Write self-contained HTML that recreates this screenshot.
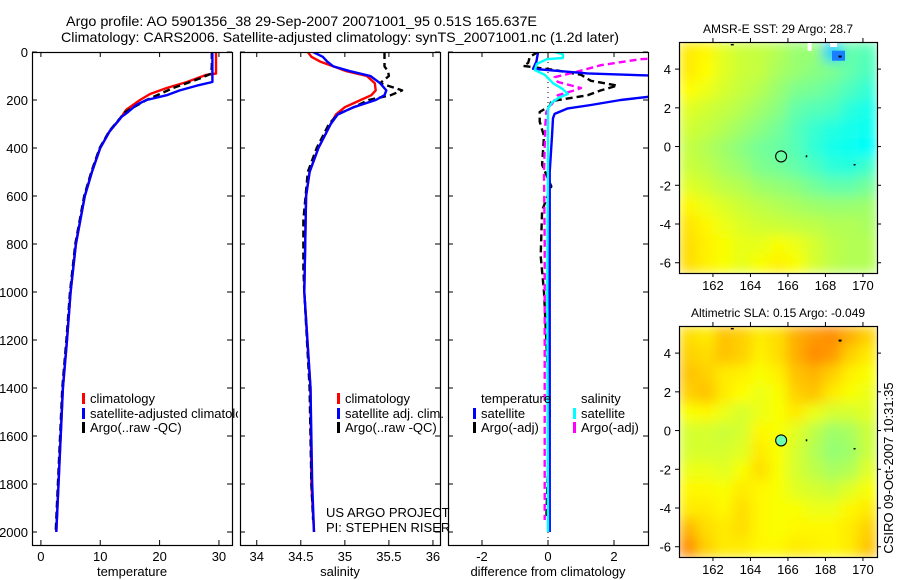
<!DOCTYPE html>
<html><head><meta charset="utf-8">
<style>
html,body{margin:0;padding:0;background:#fff;}
svg{display:block;font-family:"Liberation Sans",Arial,sans-serif;}
text{fill:#000;}
</style></head>
<body>
<svg id="fig" width="900" height="580" viewBox="0 0 900 580" xmlns="http://www.w3.org/2000/svg">
<defs>
<filter id="smooth" x="0" y="0" width="1" height="1"><feGaussianBlur stdDeviation="6" edgeMode="duplicate"/></filter>
<clipPath id="clip-leg1"><rect x="32" y="380" width="206" height="70"/></clipPath>
</defs>
<text x="66" y="26" font-size="14" textLength="471" lengthAdjust="spacingAndGlyphs">Argo profile: AO 5901356_38 29-Sep-2007 20071001_95 0.51S 165.637E</text>
<text x="61" y="42" font-size="14" textLength="558" lengthAdjust="spacingAndGlyphs">Climatology: CARS2006. Satellite-adjusted climatology: synTS_20071001.nc (1.2d later)</text>
<text x="885" y="460" font-size="13" transform="rotate(-90 893 460)" text-anchor="middle">CSIRO 09-Oct-2007 10:31:35</text>
<g id="plots"></g>
</svg>
<script>
// ---------- profile data (depth in m) ----------
const tempClimDepth = [0,90,95,125,150,175,200,240,280,330,400,500,600,800,1000,1200,1400,2000];
const tempClimVal   = [29.5,29.5,27.9,24.6,21.2,18.4,16.7,14.4,13.3,11.6,10.0,8.6,7.4,5.9,5.0,4.4,3.7,2.6];
const tempSatDepth  = [0,125,140,160,180,200,220,250,270,330,400,500,600,800,1000,1200,1400,2000];
const tempSatVal    = [28.9,28.9,26.3,23.4,21.2,17.8,16.1,14.7,13.6,11.6,10.0,8.6,7.4,5.9,5.0,4.4,3.7,2.6];
const tempArgoDepth = [0,60,90,110,150,200,250,330,400,500,600,800,1000,1200,1400,2000];
const tempArgoVal   = [28.8,28.8,28.7,26.8,22.3,17.8,14.2,11.5,9.9,8.5,7.3,5.8,4.9,4.3,3.6,2.5];

const salClimDepth = [0,20,40,60,80,100,130,160,180,200,230,260,300,350,400,500,600,800,1000,1400,1800,2000];
const salClimVal   = [34.58,34.62,34.72,34.87,35.02,35.25,35.34,35.35,35.30,35.18,35.00,34.90,34.84,34.77,34.70,34.60,34.56,34.55,34.54,34.61,34.62,34.65];
const salSatDepth  = [0,20,40,60,80,100,130,160,180,200,230,260,300,350,400,500,600,800,1000,1400,1800,2000];
const salSatVal    = [34.64,34.75,34.80,34.87,35.06,35.29,35.40,35.47,35.45,35.35,35.10,34.92,34.84,34.77,34.70,34.60,34.56,34.55,34.54,34.61,34.63,34.65];
const salArgoDepth = [0,60,80,100,130,150,160,180,200,230,260,300,400,500,700,900,1000,1400,1800,1950];
const salArgoVal   = [35.45,35.45,35.49,35.50,35.40,35.57,35.65,35.52,35.27,35.10,34.92,34.82,34.68,34.58,34.53,34.53,34.54,34.60,34.62,34.64];

const dTsatDepth = [0,40,70,89,100,150,186,200,221,235,258,276,350,500,2000];
const dTsatVal   = [-0.3,-0.35,-0.45,1.2,3.5,5,3.1,2.2,1.3,0.6,0.2,0.15,0.12,0.05,0.05];
const dSsatDepth = [0,10,25,30,50,75,95,130,155,175,190,210,235,400,1000,2000];
const dSsatVal   = [0.2,0.45,0.45,-0.04,-0.34,-0.4,-0.1,0.15,0.45,0.6,0.33,0.12,0.0,0.0,-0.02,0.0];
const dTargoDepth = [0,20,45,58,75,95,120,140,160,180,205,225,250,290,350,470,560,660,850,1000,1200,1500,1950];
const dTargoVal   = [-0.3,-0.55,-0.6,-0.75,0.2,1.0,1.3,2.1,1.6,1.2,0.1,0.05,-0.25,-0.25,-0.12,-0.18,0.1,-0.18,-0.22,-0.12,-0.05,0.05,-0.05];
const dSargoDepth = [0,20,30,55,85,105,125,150,160,180,200,250,300,500,800,1500,1950];
const dSargoVal   = [5,4,2.8,1.6,0.8,0.2,0.3,1.0,0.8,0.3,0.2,-0.05,-0.08,-0.12,-0.1,-0.1,-0.1];

const depthTicks = [0,200,400,600,800,1000,1200,1400,1600,1800,2000];
const tempTicks = [0,10,20,30];
const salTicks = [34,34.5,35,35.5,36];
const salTickLabels = ["34","34.5","35","35.5","36"];
const diffTicks = [-2,0,2];

// ---------- map data (rows lat 5..-6, cols lon ~160.7..170.3) ----------
const sstGrid = [
[0.76,0.74,0.68,0.64,0.63,0.60,0.55,0.55,0.20,0.45,0.42],
[0.76,0.73,0.68,0.64,0.63,0.58,0.55,0.52,0.50,0.45,0.40],
[0.73,0.70,0.66,0.63,0.60,0.55,0.50,0.48,0.45,0.40,0.35],
[0.68,0.65,0.63,0.60,0.56,0.52,0.45,0.42,0.40,0.33,0.30],
[0.65,0.63,0.60,0.56,0.52,0.48,0.42,0.36,0.32,0.30,0.28],
[0.63,0.60,0.56,0.52,0.48,0.46,0.42,0.35,0.30,0.28,0.26],
[0.64,0.62,0.58,0.55,0.50,0.48,0.45,0.40,0.34,0.33,0.38],
[0.68,0.65,0.62,0.60,0.56,0.54,0.52,0.48,0.45,0.45,0.48],
[0.74,0.70,0.67,0.64,0.62,0.60,0.58,0.56,0.55,0.55,0.56],
[0.77,0.74,0.70,0.67,0.65,0.64,0.63,0.62,0.60,0.60,0.58],
[0.78,0.75,0.72,0.69,0.69,0.72,0.70,0.66,0.62,0.60,0.60],
[0.78,0.75,0.72,0.69,0.72,0.75,0.72,0.66,0.62,0.60,0.60]];
const slaGrid = [
[0.78,0.76,0.82,0.80,0.76,0.78,0.85,0.88,0.90,0.85,0.80],
[0.80,0.78,0.82,0.80,0.75,0.78,0.85,0.90,0.88,0.80,0.76],
[0.82,0.80,0.76,0.75,0.72,0.75,0.82,0.84,0.80,0.75,0.72],
[0.80,0.82,0.76,0.73,0.70,0.72,0.80,0.82,0.76,0.72,0.70],
[0.72,0.74,0.70,0.66,0.70,0.72,0.76,0.70,0.66,0.66,0.68],
[0.66,0.66,0.64,0.66,0.74,0.72,0.68,0.62,0.56,0.58,0.64],
[0.66,0.66,0.66,0.68,0.76,0.72,0.66,0.60,0.54,0.56,0.64],
[0.70,0.70,0.68,0.72,0.78,0.72,0.66,0.62,0.58,0.60,0.68],
[0.74,0.74,0.72,0.76,0.74,0.72,0.68,0.66,0.64,0.68,0.72],
[0.76,0.76,0.74,0.78,0.74,0.72,0.72,0.70,0.70,0.74,0.76],
[0.84,0.78,0.76,0.78,0.74,0.72,0.74,0.74,0.74,0.76,0.80],
[0.90,0.80,0.76,0.76,0.74,0.74,0.76,0.75,0.74,0.76,0.82]];
const lonTicks = [162,164,166,168,170];
const latTicks = [4,2,0,-2,-4,-6];
const argoLon = 165.637, argoLat = -0.51;

const NS = "http://www.w3.org/2000/svg";
const root = document.getElementById('plots');
function mk(tag, attrs, parent){
  const e = document.createElementNS(NS, tag);
  for (const k in attrs) e.setAttribute(k, attrs[k]);
  (parent||root).appendChild(e);
  return e;
}
function txt(x,y,s,size,anchor,parent){
  const t = mk('text',{x:x,y:y,'font-size':size,'text-anchor':anchor||'start'},parent);
  t.textContent = s; return t;
}

// ---------- profile panels ----------
const PY0 = 52, PY1 = 545, DPX = 0.24;
function yD(d){ return PY0 + d*DPX; }
function panel(id, x0, x1, vmin, vmax){
  const sx = v => x0 + (v - vmin)/(vmax - vmin)*(x1 - x0);
  const g = mk('g',{});
  
  
  const cp = mk('clipPath',{id:'clip-'+id}, g);
  mk('rect',{x:x0,y:PY0,width:x1-x0,height:PY1-PY0},cp);
  return {g, sx, x0, x1, clip:'url(#clip-'+id+')'};
}
function frame(p, xticks, xlabels, xtitle, ylabels){
  const {g,sx,x0,x1} = p;
  const r = mk('rect',{x:x0+0.5,y:PY0+0.5,width:x1-x0,height:PY1-PY0,fill:'none',stroke:'#000','stroke-width':1.2},g);
  
  
  depthTicks.forEach((d,i)=>{
    const y = yD(d);
    mk('line',{x1:x0,y1:y,x2:x0+5,y2:y,stroke:'#000'},g);
    mk('line',{x1:x1-5,y1:y,x2:x1,y2:y,stroke:'#000'},g);
    if (ylabels){
      const t = txt(x0-4, y+5, String(d), 13, 'end', g);
      
      
    }
  });
  xticks.forEach((v,i)=>{
    const x = sx(v);
    mk('line',{x1:x,y1:PY1,x2:x,y2:PY1-5,stroke:'#000'},g);
    mk('line',{x1:x,y1:PY0,x2:x,y2:PY0+5,stroke:'#000'},g);
    const t = txt(x, PY1+16, xlabels[i], 13, 'middle', g);
    
    
  });
  const tt = txt((x0+x1)/2, 576, xtitle, 13, 'middle', g);
  
  
}
function series(p, depths, vals, color, name, dash, w){
  const pts = depths.map((d,i)=> p.sx(vals[i]).toFixed(1)+','+yD(d).toFixed(1)).join(' ');
  const attrs = {points:pts, fill:'none', stroke:color, 'stroke-width':w||2.4, 'clip-path':p.clip, 'stroke-linejoin':'round'};
  if (dash) attrs['stroke-dasharray'] = dash;
  const l = mk('polyline', attrs, p.g);
  
  
}
function legend(g, x, y, color, label, bar){
  if (bar!==false){
    const b = mk('rect',{x:x,y:y-10,width:3,height:11,fill:color},g);
    
    
  }
  const t = txt(x+8, y, label, 13, 'start', g);
  
  
}

// temperature panel
const pT = panel('temperature-panel', 32, 232, -1.5, 32.2);
series(pT, tempClimDepth, tempClimVal, '#f00', 'temp-climatology-line');
series(pT, tempArgoDepth, tempArgoVal, '#000', 'temp-argo-line', '7,4');
series(pT, tempSatDepth, tempSatVal, '#00f', 'temp-satellite-line');
frame(pT, tempTicks, tempTicks.map(String), 'temperature', true);
const leg1 = mk('g',{'clip-path':'url(#clip-leg1)'},pT.g);


legend(leg1, 82, 403, '#f00', 'climatology');
legend(leg1, 82, 418, '#00f', 'satellite-adjusted climatology');
legend(leg1, 82, 432, '#000', 'Argo(..raw -QC)');

// salinity panel
const pS = panel('salinity-panel', 240, 440, 33.81, 36.08);
series(pS, salClimDepth, salClimVal, '#f00', 'sal-climatology-line');
series(pS, salArgoDepth, salArgoVal, '#000', 'sal-argo-line', '7,4');
series(pS, salSatDepth, salSatVal, '#00f', 'sal-satellite-line');
frame(pS, salTicks, salTickLabels, 'salinity', false);
legend(pS.g, 337, 403, '#f00', 'climatology');
legend(pS.g, 337, 418, '#00f', 'satellite adj. clim.');
legend(pS.g, 337, 432, '#000', 'Argo(..raw -QC)');
const us1 = txt(326, 517, 'US ARGO PROJECT', 13, 'start', pS.g);
 
const us2 = txt(326, 532, 'PI: STEPHEN RISER', 13, 'start', pS.g);
 

// difference panel
const pD = panel('difference-panel', 448, 648, -3.03, 3.03);
const zl = mk('line',{x1:pD.sx(0),y1:PY0,x2:pD.sx(0),y2:PY1,stroke:'#000','stroke-dasharray':'1,4'},pD.g);
 
series(pD, dTargoDepth, dTargoVal, '#000', 'diff-temp-argo-line', '7,4');
series(pD, dSargoDepth, dSargoVal, '#f0f', 'diff-sal-argo-line', '7,4');
series(pD, dTsatDepth, dTsatVal, '#00f', 'diff-temp-satellite-line');
series(pD, dSsatDepth, dSsatVal, '#0ff', 'diff-sal-satellite-line');
frame(pD, diffTicks, diffTicks.map(String), 'difference from climatology', false);
legend(pD.g, 473, 403, '#000', 'temperature', false);
legend(pD.g, 473, 418, '#00f', 'satellite');
legend(pD.g, 473, 432, '#000', 'Argo(-adj)');
legend(pD.g, 573, 403, '#000', 'salinity', false);
legend(pD.g, 573, 418, '#0ff', 'satellite');
legend(pD.g, 573, 432, '#f0f', 'Argo(-adj)');

// ---------- maps ----------
function cmap(v){
  const stops = [[0,[0,0,255]],[0.25,[0,255,255]],[0.45,[100,255,170]],[0.62,[190,255,70]],[0.73,[255,255,0]],[0.9,[255,140,0]],[1,[255,60,0]]];
  v = Math.max(0, Math.min(1, v));
  for (let i=1;i<stops.length;i++){
    if (v <= stops[i][0]){
      const a=stops[i-1], b=stops[i], t=(v-a[0])/(b[0]-a[0]);
      const c=a[1].map((x,k)=>Math.round(x+(b[1][k]-x)*t));
      return 'rgb('+c.join(',')+')';
    }
  }
  return 'rgb(255,60,0)';
}
const LON0=160.19, LON1=170.75, LAT0=5.4, LAT1=-6.53;
function drawMap(id, top, grid, title, fillCircle){
  const X0=679, X1=877, Y0=top, Y1=top+231;
  const sx = lon => X0 + (lon-LON0)/(LON1-LON0)*(X1-X0);
  const sy = lat => Y0 + (LAT0-lat)/(LAT0-LAT1)*(Y1-Y0);
  const g = mk('g',{});
  
  
  const cells = mk('g',{filter:'url(#smooth)'},g);
  
  
  const nr = grid.length, nc = grid[0].length;
  const cw = (X1-X0)/nc, ch = (Y1-Y0)/nr;
  grid.forEach((row,r)=>row.forEach((v,c)=>{
    const cell = mk('rect',{x:(X0+c*cw).toFixed(2),y:(Y0+r*ch).toFixed(2),width:(cw+0.6).toFixed(2),height:(ch+0.6).toFixed(2),fill:cmap(v)},cells);
    
    
  }));
  const fr = mk('rect',{x:X0+0.5,y:Y0+0.5,width:X1-X0,height:Y1-Y0,fill:'none',stroke:'#000','stroke-width':1.2},g);
   
  lonTicks.forEach(l=>{
    const x=sx(l);
    mk('line',{x1:x,y1:Y0,x2:x,y2:Y0-4,stroke:'#000'},g);
    mk('line',{x1:x,y1:Y1,x2:x,y2:Y1+4,stroke:'#000'},g);
    const t=txt(x, Y1+17, String(l), 13, 'middle', g);
     
  });
  latTicks.forEach(l=>{
    const y=sy(l);
    mk('line',{x1:X0,y1:y,x2:X0-4,y2:y,stroke:'#000'},g);
    mk('line',{x1:X1,y1:y,x2:X1+4,y2:y,stroke:'#000'},g);
    const t=txt(X0-8, y+5, String(l), 13, 'end', g);
     
  });
  const tt = txt((X0+X1)/2, Y0-9, title, 12, 'middle', g);
   
  mk('rect',{x:sx(166.95),y:sy(-0.45),width:1.5,height:2,fill:'#000'},g);
  mk('rect',{x:sx(169.5),y:sy(-0.9),width:2,height:1.5,fill:'#000'},g);
  mk('rect',{x:sx(168.7),y:sy(4.7),width:3,height:2,fill:'#000'},g);
  mk('rect',{x:sx(162.95),y:sy(5.3),width:3,height:1.5,fill:'#000'},g);
  return {g,sx,sy};
}
function marker(m, fill){
  const c = mk('circle',{cx:m.sx(argoLon),cy:m.sy(argoLat),r:5.5,fill:fill||'none',stroke:'#000','stroke-width':1.1},m.g);
   
}
const m1 = drawMap('sst-map', 42, sstGrid, 'AMSR-E SST: 29 Argo: 28.7', null);
mk('rect',{x:m1.sx(167.05),y:43,width:4,height:8,fill:'#fff'},m1.g);
mk('rect',{x:m1.sx(168.25),y:43,width:7,height:4,fill:'#fff'},m1.g);
mk('rect',{x:m1.sx(168.35),y:m1.sy(4.95),width:13,height:10,fill:'#1a7fff'},m1.g);
mk('rect',{x:m1.sx(168.7),y:m1.sy(4.7),width:3,height:2,fill:'#000'},m1.g);
marker(m1, null);
const m2 = drawMap('sla-map', 326, slaGrid, 'Altimetric SLA: 0.15 Argo: -0.049', '#6fffb0');
marker(m2, '#6fffb0');
</script>
</body></html>
